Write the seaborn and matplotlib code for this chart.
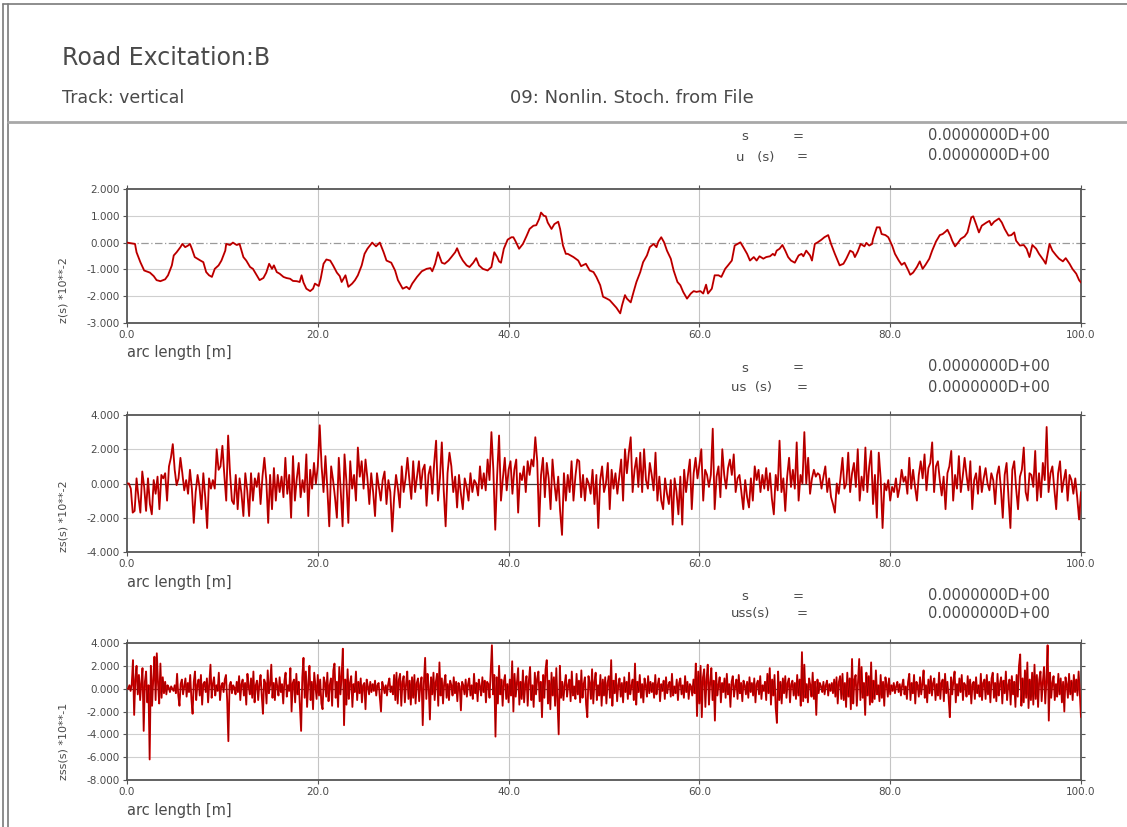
import numpy as np
import pandas as pd
import matplotlib
matplotlib.use("Agg")
import matplotlib.pyplot as plt
from matplotlib.ticker import FormatStrFormatter
from matplotlib.lines import Line2D
import seaborn as sns

# ---------------------------------------------------------------------------
# Road profile z(s) [*10**-2], sampled along the arc length s [m]
# ---------------------------------------------------------------------------
s_z = [
    0.0, 0.84, 1.0, 1.4, 1.8, 2.4, 2.8, 3.1, 3.5, 4.0, 4.3, 4.7, 4.9, 5.2, 5.6, 5.8,
    6.1, 6.4, 6.6, 6.8, 7.1, 7.7, 8.0, 8.3, 8.6, 8.9, 9.2, 9.6, 9.9, 10.3, 10.4, 10.8,
    11.1, 11.5, 11.8, 12.2, 12.5, 12.9, 13.2, 13.6, 13.9, 14.3, 14.6, 14.9, 15.2, 15.4,
    15.7, 16.0, 16.4, 16.7, 17.1, 17.4, 17.8, 18.1, 18.3, 18.5, 18.8, 19.2, 19.5, 19.7,
    20.1, 20.3, 20.6, 20.9, 21.3, 21.6, 22.0, 22.3, 22.5, 22.9, 23.2, 23.6, 23.9, 24.2,
    24.6, 24.9, 25.2, 25.7, 26.1, 26.5, 26.9, 27.2, 27.7, 28.1, 28.4, 28.9, 29.3, 29.6,
    29.9, 30.4, 30.9, 31.4, 31.8, 32.0, 32.3, 32.6, 33.0, 33.3, 33.7, 34.0, 34.4, 34.6,
    34.9, 35.2, 35.6, 35.9, 36.3, 36.6, 36.9, 37.3, 37.8, 38.2, 38.5, 38.8, 39.0, 39.2,
    39.5, 39.9, 40.3, 40.5, 40.7, 41.1, 41.5, 41.9, 42.2, 42.6, 42.9, 43.2, 43.4, 43.7,
    43.9, 44.1, 44.5, 44.8, 45.2, 45.4, 45.7, 46.0, 46.2, 46.8, 47.3, 47.6, 48.1, 48.5,
    48.9, 49.2, 49.6, 49.9, 50.3, 50.6, 50.9, 51.3, 51.7, 51.9, 52.2, 52.4, 52.8, 53.1,
    53.4, 53.8, 54.1, 54.5, 54.8, 55.2, 55.5, 55.7, 56.0, 56.3, 56.6, 57.0, 57.3, 57.7,
    58.0, 58.3, 58.7, 59.1, 59.4, 59.7, 60.1, 60.4, 60.7, 60.9, 61.3, 61.6, 62.0, 62.3,
    62.7, 63.0, 63.4, 63.7, 64.3, 64.6, 65.0, 65.3, 65.7, 66.0, 66.3, 66.7, 67.0, 67.4,
    67.7, 67.9, 68.1, 68.4, 68.7, 69.0, 69.3, 69.6, 70.0, 70.4, 70.7, 70.9, 71.2, 71.6,
    71.8, 72.1, 72.4, 72.8, 73.1, 73.5, 73.8, 74.2, 74.7, 75.1, 75.4, 75.8, 76.1, 76.3,
    76.6, 76.9, 77.3, 77.5, 77.8, 78.1, 78.2, 78.6, 78.9, 79.1, 79.5, 79.8, 80.2, 80.5,
    80.9, 81.2, 81.5, 81.9, 82.1, 82.4, 82.8, 83.1, 83.4, 83.7, 84.1, 84.4, 84.8, 85.2,
    85.5, 85.8, 86.0, 86.3, 86.5, 86.8, 87.1, 87.4, 87.8, 88.1, 88.5, 88.7, 89.0, 89.3,
    89.6, 90.1, 90.4, 90.6, 90.9, 91.4, 91.7, 92.0, 92.4, 92.7, 93.0, 93.2, 93.6, 94.0,
    94.3, 94.6, 94.9, 95.3, 95.6, 96.1, 96.3, 96.7, 97.0, 97.4, 97.7, 98.1, 98.4, 98.8,
    99.1, 99.5, 99.8, 100.0,
]
z_vals = [
    0.00, -0.05, -0.36, -0.73, -1.04, -1.12, -1.25, -1.40, -1.44, -1.37, -1.22, -0.85, -0.48, -0.36, -0.17, -0.05,
    -0.17, -0.11, -0.05, -0.23, -0.54, -0.67, -0.73, -1.10, -1.22, -1.28, -0.98, -0.85, -0.67, -0.30, -0.05, -0.09,
    0.00, -0.09, -0.05, -0.54, -0.67, -0.91, -0.98, -1.22, -1.40, -1.32, -1.12, -0.79, -0.98, -0.85,
    -1.10, -1.16, -1.28, -1.32, -1.35, -1.43, -1.44, -1.47, -1.22, -1.49, -1.72, -1.81, -1.72, -1.53,
    -1.62, -1.35, -0.79, -0.63, -0.67, -0.85, -1.12, -1.25, -1.47, -1.22, -1.65, -1.53, -1.40, -1.22,
    -0.85, -0.42, -0.23, 0.00, -0.14, 0.00, -0.36, -0.67, -0.75, -1.04, -1.40, -1.72, -1.65, -1.74,
    -1.53, -1.28, -1.07, -0.98, -0.95, -1.07, -0.79, -0.36, -0.75, -0.79, -0.67, -0.54, -0.36, -0.21,
    -0.48, -0.67, -0.85, -0.91, -0.75, -0.58, -0.85, -0.98, -1.04, -0.91, -0.36, -0.54, -0.70, -0.75,
    -0.23, 0.11, 0.20, 0.20, 0.07, -0.23, -0.05, 0.26, 0.51, 0.63, 0.65, 0.88, 1.12, 1.00,
    0.98, 0.75, 0.51, 0.69, 0.78, 0.51, -0.11, -0.42, -0.42, -0.54, -0.67, -0.88, -0.79, -1.04,
    -1.10, -1.28, -1.59, -2.02, -2.09, -2.15, -2.27, -2.43, -2.64, -2.33, -1.96, -2.09, -2.23, -1.84,
    -1.47, -1.10, -0.73, -0.48, -0.17, -0.05, -0.17, 0.04, 0.20, 0.01, -0.30, -0.60, -1.04, -1.47,
    -1.59, -1.84, -2.09, -1.90, -1.81, -1.84, -1.81, -1.90, -1.57, -1.90, -1.72, -1.22, -1.22, -1.28,
    -0.98, -0.85, -0.67, -0.11, 0.01, -0.17, -0.42, -0.67, -0.54, -0.67, -0.51, -0.60, -0.54, -0.51,
    -0.42, -0.48, -0.30, -0.23, -0.09, -0.30, -0.54, -0.67, -0.75, -0.48, -0.42, -0.51, -0.30, -0.48,
    -0.67, -0.05, 0.01, 0.11, 0.20, 0.28, -0.05, -0.42, -0.85, -0.79, -0.60, -0.30, -0.36, -0.54,
    -0.33, -0.05, -0.14, -0.01, -0.11, -0.05, 0.14, 0.57, 0.57, 0.32, 0.28, 0.20, -0.11, -0.42,
    -0.67, -0.83, -0.75, -1.04, -1.20, -1.12, -0.91, -0.70, -0.98, -0.83, -0.60, -0.30, 0.04, 0.28,
    0.32, 0.41, 0.48, 0.26, 0.07, -0.14, -0.01, 0.14, 0.23, 0.38, 0.94, 0.98, 0.69, 0.38,
    0.63, 0.75, 0.81, 0.65, 0.78, 0.90, 0.75, 0.51, 0.26, 0.28, 0.38, 0.07, -0.11, -0.09,
    -0.23, -0.54, -0.09, -0.23, -0.42, -0.67, -0.79, -0.05, -0.30, -0.48, -0.60, -0.70, -0.58, -0.79,
    -0.98, -1.16, -1.40, -1.49,
]

# ---------------------------------------------------------------------------
# First derivative zs(s) [*10**-2], every 0.2 m from 0 to 100 m
# ---------------------------------------------------------------------------
zs_vals = [
    0.0, 0.0, -0.3, -1.7, -1.6, 0.3, -0.8, -1.7, 0.7, -0.2, -1.6, 0.3, -1.2, -1.8, 0.2, -0.6, 0.4, -1.5, 0.5, 0.3, 0.6, -1.0, 1.0, 1.5, 2.3,
    0.8, -0.1, 0.3, 1.5, 0.6, -0.4, 0.2, -0.6, 0.8, -0.3, -2.3, -0.5, 0.5, -0.2, -1.5, 0.6, -0.8, -2.6, 0.3, -0.3, 0.2, -0.3, 2.0, 0.8, 1.0,
    2.2, 0.5, -1.0, 2.8, 0.6, -1.0, -1.2, 0.5, -1.5, 0.3, -0.6, -1.9, 0.6, -0.4, -1.9, 0.6, -1.0, 0.3, -0.2, 0.6, -1.2, 0.4, 1.5, 0.2, -2.3,
    0.5, -1.5, 0.9, -1.0, 0.5, -0.5, 0.4, -0.8, 1.5, -0.6, 0.5, -2.0, 1.6, -1.0, 0.3, 1.2, -0.8, 0.2, -0.5, 1.7, -1.9, 0.8, -0.3, 1.2, 0.0,
    1.0, 3.4, 1.0, -0.5, 1.6, -0.3, -2.5, 1.0, 0.2, -0.8, -2.0, 1.5, -0.4, -2.5, 1.7, 0.1, -2.3, 1.3, -0.3, 0.5, -1.0, 2.1, 0.4, 1.3, -0.3,
    1.4, 0.3, -1.2, 0.6, -0.5, -1.9, 0.6, -0.2, -1.0, 0.2, 0.7, -1.2, 0.2, -0.5, -2.8, -0.8, 0.5, -0.3, -1.4, 1.0, -0.5, 0.3, 1.5, 0.2, -0.9,
    1.3, -0.5, 0.4, 1.3, -0.3, 0.8, 1.1, -1.3, 0.5, 1.0, -0.6, 1.2, 2.5, -1.0, 0.3, 2.4, -0.4, -2.5, 0.6, 1.8, 1.0, -0.5, 0.4, -1.4, 0.5,
    -0.6, -1.5, 0.3, -0.2, -1.0, 0.6, -0.5, 0.2, 0.0, -0.7, 1.0, -0.3, 0.6, -0.4, 1.4, 0.2, 3.0, 0.8, -2.7, 0.5, 2.8, -1.0, 0.3, 1.5, -0.4,
    0.8, 1.3, -0.6, 0.8, 1.4, -1.7, 0.6, 0.2, 1.0, -0.5, 1.3, 0.5, 1.4, 1.0, 2.7, 1.3, -2.5, 0.5, 1.5, -0.8, 1.2, 0.3, -1.5, 1.4, 0.0,
    -1.0, 0.4, -1.6, -3.0, 0.6, -1.0, 0.5, -0.5, 1.3, -1.0, 0.4, 1.4, 1.3, -0.8, 0.5, -1.0, 0.3, 0.0, -0.6, 0.8, -1.2, 0.5, -2.6, 0.2, 1.0,
    -0.5, 0.0, 1.2, -1.5, 0.8, -0.3, 0.6, -0.6, 0.4, 1.4, -1.0, 2.0, 0.6, 1.8, 2.7, -0.5, 0.8, 1.5, -0.2, 1.8, -0.5, 2.0, 0.2, -0.3, 1.2,
    0.5, -0.4, 1.8, -1.0, 0.4, -1.0, -1.5, 0.3, -0.6, -1.2, 0.2, -2.4, 0.3, -0.5, -1.8, 0.4, -2.4, 0.8, -0.5, 0.5, 1.4, -1.5, 0.6, 1.5, 0.3,
    1.1, 2.0, -1.0, 0.8, 0.5, -0.2, 0.5, 3.2, -1.5, 0.4, 1.0, -0.8, 2.0, 0.5, -0.3, 0.9, 1.4, 0.5, 1.7, -0.5, 0.3, 0.5, -0.5, -1.5, 0.2,
    -0.8, -1.4, 0.3, -1.0, 1.0, 0.2, 0.8, -0.5, 0.5, -0.3, 0.9, -0.4, 0.6, -0.9, -1.8, 0.5, -0.4, 2.5, -0.5, 0.3, -1.6, 0.4, 1.5, -0.2, 0.8,
    -0.3, 2.4, -1.0, 0.5, 0.0, 3.0, 0.0, 1.5, -0.6, 0.3, 0.8, 0.4, 0.6, 0.5, -0.3, 0.4, 1.0, -0.5, 0.3, -0.8, -1.2, -1.7, 0.0, -0.6, 0.4,
    1.5, -0.3, 0.0, 1.8, -0.5, 0.6, 1.2, -0.2, 2.0, -1.0, 0.4, -0.4, 2.1, -0.5, 1.0, 1.9, -1.2, 0.5, -2.0, 1.8, 0.3, -2.6, 0.0, -0.4, 0.2,
    -1.0, -0.2, -0.5, 0.3, -0.8, -0.2, 0.8, 0.1, 0.4, -0.6, 1.5, -0.3, 0.8, -0.2, -1.0, 0.5, 1.3, 0.3, 1.7, -0.4, 0.9, 1.2, 2.4, -0.5, 1.0,
    1.3, 0.2, -0.7, 0.4, -1.5, 0.6, 1.0, 1.9, -1.0, 0.5, -0.3, 1.6, -0.5, 0.4, 1.5, 0.5, -0.4, 1.3, -1.5, 0.2, 0.6, -0.6, 1.0, -0.5, 0.3,
    0.9, 0.0, -0.4, 0.6, 0.2, -1.2, 0.5, 1.0, -0.3, -2.0, 0.5, 1.2, -0.8, -2.6, 0.8, 1.3, -0.3, -1.5, 0.4, 0.8, 2.1, -0.5, -1.0, 0.6, 0.5,
    -0.2, 1.9, -1.0, 0.6, -0.8, 1.2, 0.2, 3.3, -0.5, 0.6, 1.0, -0.3, -1.5, 0.6, 1.3, -0.5, 0.2, 0.8, -1.0, 0.5, 0.2, -0.6, 0.3, -0.8, -2.1,
    -0.5,
]

# ---------------------------------------------------------------------------
# Second derivative zss(s) [*10**-1], every 0.125 m from 0 to 100 m
# ---------------------------------------------------------------------------
zss_vals = [
    0.0, 0.0, 0.3, -0.2, 0.4, 2.5, -2.3, 0.8, 2.0, -0.5, 1.2, -1.0, 0.5, 1.8, -3.7, 0.6, 1.5, -1.2, 0.3, -6.2,
    2.0, -1.5, 0.8, 2.8, -1.0, 3.1, 0.5, -1.3, 2.2, -0.8, 1.0, -0.4, 0.6, -0.5, 0.3, 0.1, -0.3, 0.2, 0.0, -0.2,
    0.3, -0.4, 1.3, -0.6, -1.5, 0.4, 0.8, -0.5, 0.2, 0.9, -0.7, 0.5, -0.3, 1.2, -0.9, -2.2, 0.6, 1.5, -1.0, 0.3,
    0.8, -0.6, 1.2, -1.4, 0.4, 0.6, -0.3, 0.9, -1.2, 0.5, 2.1, -0.8, 0.4, 1.0, -0.6, 0.3, -0.2, 1.4, -1.0, 0.2,
    0.5, -0.3, 0.8, 1.2, -1.0, -4.6, 0.3, 0.6, -0.4, 0.3, 0.1, -0.5, 0.6, -0.3, 1.1, -1.0, 0.4, 0.8, -0.6, 0.5,
    -1.4, 1.3, 0.2, -0.5, 0.9, -0.8, 1.5, -1.2, 0.3, 0.7, -1.0, 0.4, 1.2, -0.6, -2.2, 0.8, 0.5, -1.3, 1.6, -0.4,
    0.3, 2.1, -0.8, 0.5, -1.0, 0.9, 0.2, -0.6, 1.0, -0.3, 0.4, -1.3, 0.7, 1.4, -0.7, 0.3, -0.2, 1.8, -2.0, 0.5,
    0.8, -1.2, 1.3, -0.5, 0.6, -1.5, -3.7, 1.0, 2.7, -0.8, 1.5, -1.6, 0.4, 2.0, -1.0, 0.6, -1.8, 1.4, 0.3, -0.9,
    1.2, -0.6, 0.8, -1.3, -1.8, 1.0, 0.5, -0.7, 1.4, -1.1, 0.3, 0.9, -1.5, 1.6, 2.2, -0.8, 0.6, -1.6, 1.9, -0.5,
    1.2, 3.5, -3.2, 0.8, -1.4, 1.7, -0.9, 0.5, 1.1, -1.6, 0.4, -0.3, 1.5, -1.0, 0.6, -0.4, 0.9, -1.2, 0.3, 0.5,
    -1.8, 0.8, 0.2, -0.5, 0.6, -0.3, 0.4, -0.2, 0.7, -0.6, 0.3, 0.5, -0.8, -2.0, 0.6, 0.2, -0.4, 0.3, -0.6, 0.4,
    0.9, -0.3, 0.2, -0.5, 1.2, -1.0, 1.4, -1.3, 0.8, 1.3, -1.5, 0.6, 1.1, -1.2, 0.4, 1.5, -0.9, 0.7, -1.4, 1.0,
    -0.8, 1.2, -1.3, 0.5, 0.9, -1.1, 0.4, 1.0, -3.2, 0.6, 2.7, -0.9, 1.3, 0.2, -2.7, 1.0, -0.5, 1.4, -1.0, 0.6,
    1.3, -1.5, 2.3, -0.6, 0.9, -1.3, 0.5, 1.2, -0.8, 0.4, -1.0, 0.7, 0.3, -0.6, 1.0, -0.4, 0.6, -1.1, 0.5, 0.2,
    -1.9, 0.6, 0.3, -0.5, 0.8, -0.7, 0.4, 0.9, -0.6, 0.3, -0.9, 1.3, -0.4, 0.5, -1.1, 0.8, 0.2, -0.6, 1.0, -0.3,
    0.7, -1.2, 0.6, 0.4, -0.8, 1.4, 3.8, -0.5, 1.2, -4.2, 1.0, -1.3, 2.0, -0.5, 0.8, -1.5, 0.6, 1.2, -0.9, 0.4,
    -1.2, 0.8, -0.6, 2.4, -2.0, 1.3, -0.7, 0.5, 1.8, -1.4, 0.6, -0.9, 1.6, -1.2, 0.4, 1.1, -1.5, 0.7, 1.9, -1.0,
    0.3, -1.6, 1.4, -0.5, 0.9, 1.5, -1.1, 0.6, -2.5, 1.2, -0.8, 1.7, 2.5, -1.3, 0.7, -1.8, 1.4, -0.6, 1.0, -1.5,
    1.8, -1.2, -4.0, 2.0, -0.8, 0.6, -1.0, 0.4, 1.2, -0.7, 0.3, 0.8, -1.1, 1.5, -0.6, 0.2, -0.9, 1.3, -0.5, 0.7,
    -1.2, 1.6, -0.8, 0.4, 1.0, -1.4, -2.5, 1.1, 0.5, -0.9, 1.7, -1.3, 0.6, 1.4, -1.0, 0.3, -0.6, 1.2, -1.5, 0.8,
    -0.6, 1.0, -1.3, 0.5, 1.1, -0.8, 2.5, -1.5, 0.7, -0.4, 1.3, -1.1, 0.3, 0.9, -0.7, 0.5, -1.2, 1.0, -0.3, 0.6,
    -0.9, 1.4, -0.5, 0.2, 0.8, -1.0, 2.2, -1.4, 0.6, -0.3, 1.2, -0.8, 0.4, -1.2, 0.9, 0.3, -0.7, 1.1, -0.4, 0.6,
    -0.3, 0.5, -0.8, 1.2, -0.5, 0.3, 0.9, -1.1, 0.4, -0.2, 0.7, -0.9, 1.0, -0.4, 0.3, 0.6, -0.7, 1.3, -0.6, 0.2,
    -0.4, 0.8, -1.0, 0.5, 0.9, -0.5, 0.3, -0.8, 1.1, -0.3, 0.6, -0.9, 0.4, 0.2, -0.6, 0.8, -0.4, 2.2, -2.4, 1.5,
    -1.3, 2.0, -2.5, 1.0, 1.7, -1.6, 0.8, 2.1, -1.4, 0.5, 1.8, -1.0, 0.7, -2.8, 1.4, -0.6, 0.3, 1.0, -1.2, 0.5,
    -0.3, 0.9, -0.8, 1.3, -0.5, 0.4, -1.6, 0.6, 1.1, -0.7, 0.2, 0.8, -0.9, 1.2, -0.4, 0.5, -1.1, 0.7, 0.3, -0.5,
    0.6, -0.8, 1.0, -0.3, 0.5, -0.6, 0.9, -1.2, 0.4, 0.7, -0.5, 1.1, -0.9, 0.3, -0.2, 0.6, -1.0, 1.3, -0.4, 1.8,
    -1.4, 0.8, -0.6, 1.2, -1.7, -3.0, 1.5, -1.0, 0.6, -1.3, 0.9, -0.4, 1.1, -0.8, 0.5, 0.9, -1.2, 0.4, 0.7, -0.6,
    0.5, -0.9, 1.2, -0.6, 0.8, -1.5, 3.2, -1.1, 2.1, -0.8, 0.4, -1.2, 0.9, 0.3, -0.7, 1.4, -0.9, 0.6, -2.3, 0.8,
    -0.4, 0.5, 0.2, -0.3, 0.6, -0.5, 0.3, 0.7, -0.6, 0.4, -0.2, 0.5, -0.4, 0.8, -0.7, 1.0, -1.3, 0.6, 1.1, -0.9,
    1.3, -1.0, 0.5, -1.6, 1.4, -0.7, 0.9, -1.8, 2.6, -1.3, 0.8, 1.2, -1.5, 0.6, 2.6, -1.0, 1.9, -0.8, 0.5, -2.3,
    1.4, -0.6, 1.1, -1.4, 2.3, -1.2, 0.7, -0.9, 1.6, -0.5, 0.3, -1.1, 1.2, -0.8, 0.6, -1.5, 1.0, 0.4, -0.7, 0.9,
    -0.5, 0.3, -0.2, 0.5, -0.4, 0.2, 0.6, -0.3, 0.4, -0.6, 0.3, 0.8, -0.5, 0.2, -0.9, 0.6, 1.3, -1.0, 0.5, -0.4,
    1.2, -1.3, 0.6, 0.3, -0.7, 1.0, -0.5, 0.4, 1.6, -0.8, 0.3, -1.2, 0.8, -0.4, 1.1, -0.6, 0.5, 0.9, -1.0, 0.4,
    -0.6, 1.4, -0.9, 0.5, 0.8, -1.1, 1.3, -0.4, 0.6, -0.8, -2.5, 1.0, -0.5, 0.7, 1.5, -1.2, 0.4, -0.6, 0.9, -0.3,
    1.2, -1.0, 0.5, 0.3, -0.7, 1.1, -0.5, 0.8, -1.3, 0.4, 0.6, -0.9, 1.0, -0.4, 0.3, -0.7, 1.3, -1.0, 0.5, 0.8,
    -0.9, 1.2, -0.5, 0.6, -1.2, 0.9, 1.4, -0.8, 0.5, -1.1, 1.3, -0.6, 0.4, 1.0, -1.3, 0.7, -0.4, 1.5, -1.0, 0.3,
    0.8, -1.4, 1.1, -0.5, 0.6, -1.6, 1.2, -0.7, 2.0, 3.0, -1.5, 0.9, -1.2, 1.6, -0.8, 2.3, -1.7, 0.8, -1.0, 1.4,
    -1.4, 2.1, -0.9, 1.2, -1.6, 0.8, 1.5, -1.1, 0.6, 1.9, -1.3, 0.7, 3.8, -2.8, 1.4, -0.8, 0.5, 1.1, -1.0, 0.4,
    -0.7, 1.3, -0.5, 0.9, -1.2, 0.6, -2.0, 1.0, 0.4, -0.8, 1.3, -0.5, 0.7, -1.0, 1.2, -0.3, 0.8, -0.6, 1.5, -0.4,
    -2.5,
]

s_zs = np.linspace(0.0, 100.0, len(zs_vals))
s_zss = np.linspace(0.0, 100.0, len(zss_vals))

x_ticks = [0, 20, 40, 60, 80, 100]
panels = [
    dict(s=s_z, v=z_vals, lim=(-3, 2), step=1, ylabel="z(s) *10**-2",
         rows=(("s", 741, "=", 793), ("u   (s)", 736, "=", 797)),
         zero="dashdot", top=189, bottom=323, text_y=(137, 157)),
    dict(s=s_zs, v=zs_vals, lim=(-4, 4), step=2, ylabel="zs(s) *10**-2",
         rows=(("s", 741, "=", 793), ("us  (s)", 731, "=", 797)),
         zero="solid", top=415, bottom=552, text_y=(368, 388)),
    dict(s=s_zss, v=zss_vals, lim=(-8, 4), step=2, ylabel="zss(s) *10**-1",
         rows=(("s", 741, "=", 793), ("uss(s)", 731, "=", 797)),
         zero="solid", top=643, bottom=780, text_y=(597, 614)),
]
value_text = "0.0000000D+00"

# ---------------------------------------------------------------------------
W, H = 1127, 827
sns.set_theme(style="white")
plt.rcParams["font.family"] = ["DejaVu Sans"]
plt.rcParams["axes.unicode_minus"] = False

TEXT = "#4a4a4a"
RED = "#d60000"
DARK = "#3a0000"

fig = plt.figure(figsize=(W / 100, H / 100), dpi=100)
fig.patch.set_facecolor("white")


def fx(x):
    return x / W


def fy(y):
    return 1 - y / H


# page frame and header separator
for xx in (3, 8):
    fig.add_artist(Line2D([fx(xx), fx(xx)], [fy(4), 0], color="#7a7a7a", lw=1.2))
fig.add_artist(Line2D([fx(3), 1], [fy(4), fy(4)], color="#7a7a7a", lw=1.2))
fig.add_artist(Line2D([fx(8), 1], [fy(122), fy(122)], color="#a8a8a8", lw=2.0))

fig.text(fx(62), fy(58), "Road Excitation:B", fontsize=17, color=TEXT, va="center", ha="left")
fig.text(fx(62), fy(98), "Track: vertical", fontsize=12.5, color=TEXT, va="center", ha="left")
fig.text(fx(510), fy(98), "09: Nonlin. Stoch. from File", fontsize=13, color=TEXT, va="center", ha="left")

for p in panels:
    ax = fig.add_axes([fx(127), fy(p["bottom"]), fx(1081) - fx(127), fy(p["top"]) - fy(p["bottom"])])
    df = pd.DataFrame({"s": p["s"], "v": p["v"]})
    sns.lineplot(data=df, x="s", y="v", ax=ax, color=RED, lw=1.35, estimator=None, sort=False, zorder=3)
    sns.lineplot(data=df, x="s", y="v", ax=ax, color=DARK, lw=0.3, alpha=0.6,
                 estimator=None, sort=False, zorder=4)

    lo, hi = p["lim"]
    yt = np.arange(lo, hi + p["step"] / 2, p["step"])
    ax.set_xlim(0, 100)
    ax.set_ylim(lo, hi)
    ax.set_xticks(x_ticks)
    ax.set_yticks(yt)
    ax.xaxis.set_major_formatter(FormatStrFormatter("%.1f"))
    ax.yaxis.set_major_formatter(FormatStrFormatter("%.3f"))
    ax.set_xlabel("")
    ax.set_ylabel("")

    for xv in x_ticks[1:-1]:
        ax.axvline(xv, color="#c4c4c4", lw=0.8, zorder=1)
    for yv in yt[1:-1]:
        if yv == 0:
            continue
        ax.axhline(yv, color="#cfcfcf", lw=0.8, zorder=1)
    if p["zero"] == "dashdot":
        ax.axhline(0, color="#9a9a9a", lw=0.9, ls=(0, (6, 2, 1, 2)), zorder=2)
    else:
        ax.axhline(0, color="#404040", lw=0.9, zorder=2)

    for sp in ax.spines.values():
        sp.set_color("#555555")
        sp.set_linewidth(1.3)
    ax.tick_params(axis="both", which="both", direction="out", length=3, width=0.8,
                   colors="#555555", labelcolor=TEXT, labelsize=7.5, pad=2,
                   top=True, right=True, left=True, bottom=True,
                   labeltop=False, labelright=False)

    fig.text(fx(64), fy(p["bottom"]), p["ylabel"], rotation=90, fontsize=8, color=TEXT,
             ha="center", va="bottom")
    fig.text(fx(127), fy(p["bottom"] + 30), "arc length [m]", fontsize=10.5, color=TEXT,
             ha="left", va="center")

    for (name, nx, eq, ex), yy in zip(p["rows"], p["text_y"]):
        fig.text(fx(nx), fy(yy), name, fontsize=9.5, color=TEXT, ha="left", va="center")
        fig.text(fx(ex), fy(yy), eq, fontsize=9.5, color=TEXT, ha="left", va="center")
        fig.text(fx(928), fy(yy - 1), value_text, fontsize=10.5, color=TEXT, ha="left", va="center")

fig.savefig("out.png", dpi=100, facecolor="white")
